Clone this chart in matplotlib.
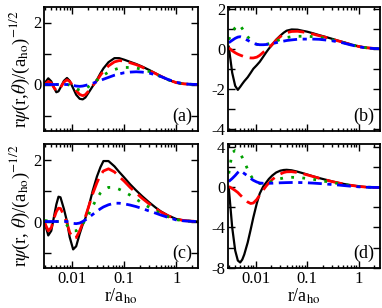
import numpy as np
import matplotlib
matplotlib.use("Agg")
import matplotlib.pyplot as plt
from matplotlib.ticker import MultipleLocator, LogLocator, FixedLocator, FixedFormatter, NullFormatter

plt.rcParams['font.family'] = ['Liberation Serif', 'DejaVu Serif']
plt.rcParams['mathtext.fontset'] = 'stix'
plt.rcParams['axes.unicode_minus'] = False

# common radial grid, r / a_ho
r = [0.003, 0.0035, 0.004, 0.0045, 0.005, 0.0055, 0.006, 0.007, 0.008, 0.009,
     0.0105, 0.012, 0.014, 0.016, 0.018, 0.021, 0.025, 0.03, 0.035, 0.04,
     0.05, 0.065, 0.08, 0.1, 0.13, 0.17, 0.22, 0.3, 0.4, 0.5,
     0.7, 1.0, 1.4, 2.0, 2.7]

# panel (a)
a_black = [0.05, 0.2, 0.1, -0.1, -0.25, -0.22, -0.1, 0.12, 0.21, 0.12,
           -0.12, -0.33, -0.46, -0.48, -0.42, -0.25, -0.05, 0.15, 0.36, 0.52,
           0.72, 0.85, 0.85, 0.8, 0.73, 0.66, 0.58, 0.47, 0.36, 0.27,
           0.15, 0.06, 0.02, 0.005, 0.0]
a_red = [0.0, 0.1, 0.05, -0.1, -0.2, -0.2, -0.1, 0.08, 0.15, 0.1,
         -0.05, -0.2, -0.32, -0.36, -0.33, -0.2, -0.03, 0.13, 0.3, 0.43,
         0.6, 0.73, 0.77, 0.76, 0.7, 0.64, 0.56, 0.45, 0.35, 0.27,
         0.15, 0.06, 0.02, 0.005, 0.0]
a_green = [0.0, 0.0, 0.0, 0.0, 0.0, 0.0, 0.0, 0.0, 0.0, -0.02,
           -0.08, -0.14, -0.18, -0.18, -0.14, -0.06, 0.04, 0.14, 0.22, 0.3,
           0.4, 0.48, 0.53, 0.55, 0.55, 0.53, 0.49, 0.42, 0.33, 0.26,
           0.15, 0.06, 0.02, 0.005, 0.0]
a_blue = [0.0, 0.0, 0.0, 0.0, 0.0, 0.0, 0.0, 0.0, 0.0, 0.0,
          -0.03, -0.05, -0.06, -0.05, -0.03, 0.0, 0.04, 0.09, 0.13, 0.17,
          0.23, 0.3, 0.34, 0.38, 0.4, 0.41, 0.4, 0.37, 0.31, 0.26,
          0.16, 0.07, 0.02, 0.005, 0.0]

# panel (b)
b_black = [0.1, -1.2, -1.85, -2.05, -1.9, -1.75, -1.62, -1.42, -1.2, -1.0,
           -0.82, -0.65, -0.4, -0.18, 0.0, 0.2, 0.45, 0.65, 0.8, 0.9,
           0.96, 0.95, 0.9, 0.85, 0.77, 0.68, 0.6, 0.5, 0.4, 0.33,
           0.22, 0.12, 0.05, 0.015, 0.0]
b_red = [0.05, -0.1, -0.2, -0.27, -0.32, -0.36, -0.4, -0.44, -0.46, -0.46,
         -0.42, -0.33, -0.18, -0.05, 0.05, 0.22, 0.42, 0.6, 0.72, 0.8,
         0.86, 0.87, 0.84, 0.8, 0.73, 0.65, 0.58, 0.48, 0.39, 0.32,
         0.21, 0.11, 0.05, 0.015, 0.0]
b_green = [0.45, 0.85, 1.05, 1.2, 1.15, 1.0, 0.85, 0.6, 0.42, 0.3,
           0.22, 0.2, 0.2, 0.22, 0.25, 0.3, 0.38, 0.46, 0.52, 0.56,
           0.6, 0.62, 0.62, 0.62, 0.6, 0.57, 0.52, 0.45, 0.37, 0.31,
           0.2, 0.11, 0.05, 0.015, 0.0]
b_blue = [0.3, 0.42, 0.52, 0.58, 0.6, 0.56, 0.5, 0.42, 0.34, 0.27,
          0.22, 0.2, 0.2, 0.21, 0.23, 0.26, 0.3, 0.35, 0.38, 0.41,
          0.44, 0.47, 0.48, 0.48, 0.48, 0.47, 0.44, 0.4, 0.34, 0.29,
          0.19, 0.1, 0.04, 0.01, 0.0]

# panel (c)
c_black = [-0.05, -0.45, -0.3, 0.15, 0.55, 0.8, 0.78, 0.4, 0.0, -0.5,
           -0.9, -0.8, -0.4, -0.1, 0.1, 0.5, 1.0, 1.45, 1.75, 1.95,
           1.95, 1.78, 1.6, 1.42, 1.2, 1.0, 0.82, 0.62, 0.45, 0.33,
           0.19, 0.08, 0.03, 0.01, 0.0]
c_red = [-0.05, -0.3, -0.2, 0.1, 0.32, 0.43, 0.42, 0.2, -0.05, -0.35,
         -0.55, -0.52, -0.3, -0.05, 0.15, 0.5, 0.9, 1.25, 1.5, 1.63,
         1.7, 1.6, 1.45, 1.3, 1.1, 0.92, 0.75, 0.57, 0.42, 0.31,
         0.18, 0.08, 0.03, 0.01, 0.0]
c_green = [0.03, 0.02, 0.0, 0.0, 0.0, 0.0, 0.0, -0.05, -0.12, -0.22,
           -0.3, -0.3, -0.22, -0.08, 0.05, 0.25, 0.5, 0.75, 0.92, 1.02,
           1.1, 1.1, 1.04, 0.96, 0.85, 0.72, 0.6, 0.46, 0.35, 0.26,
           0.15, 0.06, 0.02, 0.005, 0.0]
c_blue = [0.0, 0.0, 0.0, 0.0, 0.0, 0.0, 0.0, 0.0, 0.0, -0.03,
          -0.06, -0.07, -0.05, 0.0, 0.05, 0.13, 0.23, 0.33, 0.41, 0.47,
          0.54, 0.59, 0.59, 0.57, 0.53, 0.48, 0.42, 0.34, 0.27, 0.21,
          0.13, 0.05, 0.02, 0.005, 0.0]

# panel (d)
d_black = [0.0, -4.0, -6.3, -7.3, -7.5, -7.2, -6.7, -5.5, -4.2, -3.0,
           -1.6, -0.6, 0.1, 0.5, 0.85, 1.2, 1.5, 1.68, 1.75, 1.77,
           1.72, 1.58, 1.45, 1.3, 1.12, 0.95, 0.8, 0.62, 0.47, 0.37,
           0.23, 0.11, 0.04, 0.01, 0.0]
d_red = [0.1, -0.1, -0.3, -0.5, -0.75, -0.95, -1.15, -1.45, -1.6, -1.55,
         -1.2, -0.75, -0.25, 0.15, 0.45, 0.8, 1.1, 1.35, 1.5, 1.57,
         1.58, 1.5, 1.4, 1.26, 1.1, 0.93, 0.78, 0.6, 0.46, 0.36,
         0.22, 0.11, 0.04, 0.01, 0.0]
d_green = [1.4, 3.5, 3.7, 3.6, 3.4, 3.0, 2.6, 1.8, 1.2, 0.8,
           0.5, 0.4, 0.4, 0.45, 0.5, 0.6, 0.75, 0.88, 0.95, 1.0,
           1.02, 1.0, 0.96, 0.9, 0.82, 0.72, 0.62, 0.5, 0.4, 0.32,
           0.2, 0.1, 0.04, 0.01, 0.0]
d_blue = [0.6, 0.9, 1.2, 1.5, 1.7, 1.55, 1.4, 1.15, 0.9, 0.72,
          0.55, 0.45, 0.42, 0.42, 0.42, 0.43, 0.45, 0.47, 0.48, 0.49,
          0.5, 0.5, 0.49, 0.47, 0.44, 0.4, 0.36, 0.3, 0.25, 0.2,
          0.13, 0.07, 0.03, 0.01, 0.0]

panels = [
    ('(a)', [a_black, a_red, a_green, a_blue], (-1.5, 2.5), 2, 1),
    ('(b)', [b_black, b_red, b_green, b_blue], (-4.1, 2.08), 2, 1),
    ('(c)', [c_black, c_red, c_green, c_blue], (-1.5, 2.5), 2, 1),
    ('(d)', [d_black, d_red, d_green, d_blue], (-8.05, 4.35), 4, 2),
]

styles = [
    dict(color='black', lw=1.6, ls='-'),
    dict(color='red', lw=2.0, ls=(0, (6, 2.5))),
    dict(color='#00a000', lw=2.0, ls=(0, (1, 3))),
    dict(color='blue', lw=2.0, ls=(0, (5, 2, 1.5, 2))),
]

fig = plt.figure(figsize=(3.82, 3.08), dpi=100)

lefts = [44 / 382, 228 / 382]
widths = [154 / 382, 152 / 382]
bottoms = [177 / 308, 40 / 308]
h = 124 / 308

ylabel_top = r'r$\psi$(r,$\theta$)/(a$_{\rm ho}$)$^{-1/2}$'
ylabel_bot = r'r$\psi$(r, $\theta$)/(a$_{\rm ho}$)$^{-1/2}$'

fs = 12
for i, (lab, curves, ylim, ymaj, ymin) in enumerate(panels):
    row, col = i // 2, i % 2
    ax = fig.add_axes([lefts[col], bottoms[row], widths[col], h])
    for y, st in zip(curves, styles):
        ax.plot(r, y, **st)
    ax.set_xscale('log')
    ax.set_xlim(0.0029, 2.6)
    ax.set_ylim(*ylim)
    ax.yaxis.set_major_locator(MultipleLocator(ymaj))
    ax.yaxis.set_minor_locator(MultipleLocator(ymin))
    ax.xaxis.set_major_locator(FixedLocator([0.01, 0.1, 1]))
    ax.xaxis.set_minor_locator(LogLocator(base=10, subs=np.arange(2, 10)))
    ax.xaxis.set_minor_formatter(NullFormatter())
    if row == 1:
        ax.xaxis.set_major_formatter(FixedFormatter(['0.01', '0.1', '1']))
        ax.set_xlabel(r'r/a$_{\rm ho}$', fontsize=13, labelpad=0)
    else:
        ax.xaxis.set_major_formatter(NullFormatter())
    ax.tick_params(which='both', direction='in', top=True, right=True,
                   labelsize=fs, pad=2, width=1)
    ax.tick_params(axis='x', which='major', length=5)
    ax.tick_params(axis='x', which='minor', length=2.5)
    ax.tick_params(axis='y', which='both', length=5)
    for s in ax.spines.values():
        s.set_linewidth(1.3)
    ax.text(0.96, 0.05, lab, transform=ax.transAxes, ha='right', va='bottom',
            fontsize=13)
    if col == 0:
        ax.set_ylabel(ylabel_top if row == 0 else ylabel_bot, fontsize=13.5,
                      labelpad=1)

fig.savefig('out.png', dpi=100)
